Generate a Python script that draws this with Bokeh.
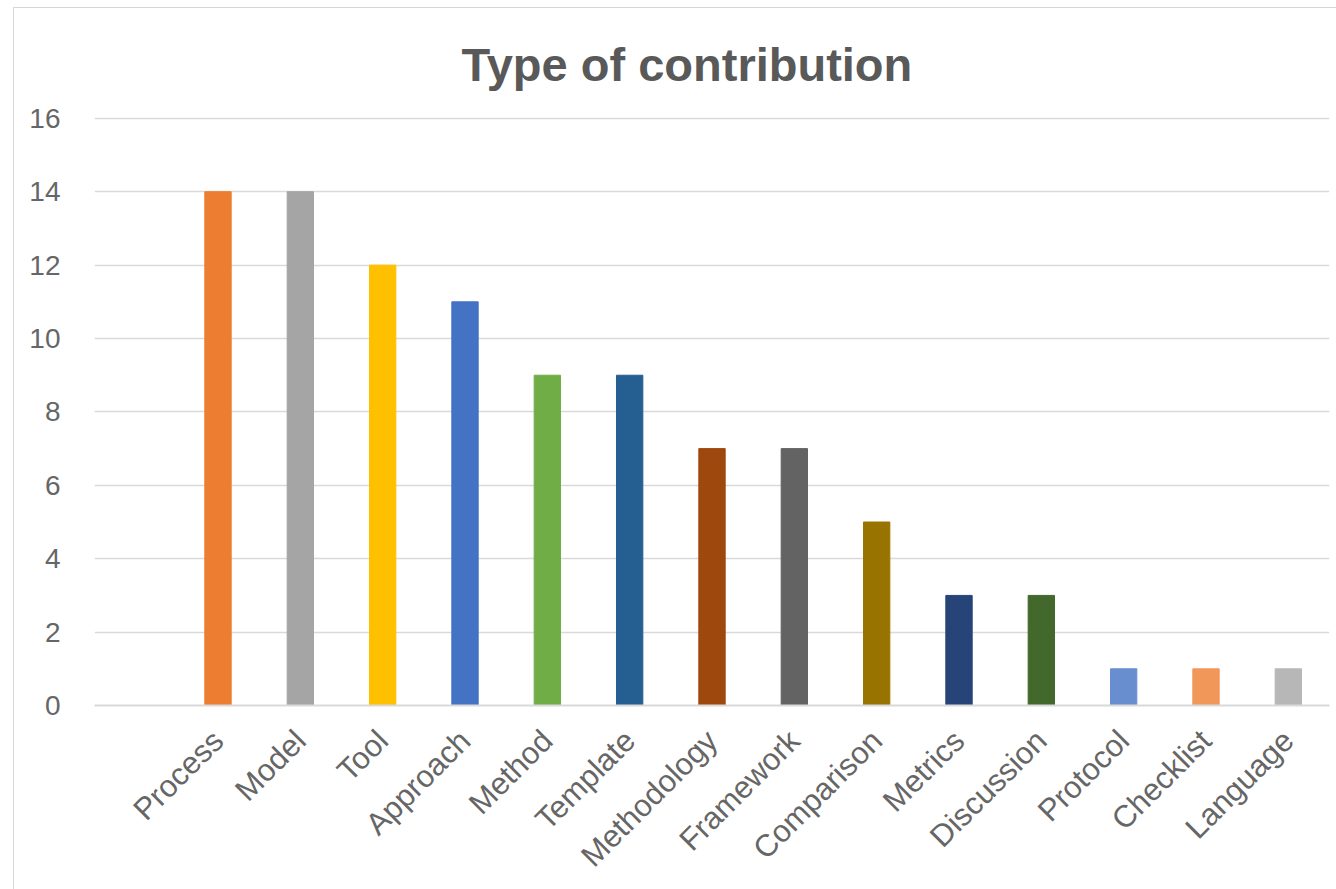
import math
from bokeh.plotting import figure
from bokeh.models import FactorRange, ColumnDataSource, FixedTicker
from bokeh.embed import file_html
from bokeh.resources import INLINE

categories = ["Process", "Model", "Tool", "Approach", "Method", "Template", "Methodology",
              "Framework", "Comparison", "Metrics", "Discussion", "Protocol", "Checklist", "Language"]
counts = [14, 14, 12, 11, 9, 9, 7, 7, 5, 3, 3, 1, 1, 1]
colors = ["#ED7D31", "#A5A5A5", "#FFC000", "#4472C4", "#70AD47", "#255E91", "#9E480E",
          "#636363", "#997300", "#264478", "#43682B", "#698ED0", "#F1975A", "#B7B7B7"]
y_ticks = [0, 2, 4, 6, 8, 10, 12, 14, 16]
title_text = "Type of contribution"

factors = [" "] + categories
src = ColumnDataSource(dict(cat=categories, val=counts, color=colors))

p = figure(x_range=FactorRange(*factors, range_padding=0), y_range=(0, 16.05),
           width=1323, height=882, output_backend="svg", toolbar_location=None,
           min_border_left=80, min_border_right=8, min_border_top=108, min_border_bottom=185)
p.margin = (7, 0, 0, 13)
p.styles = {"border-left": "1px solid #D6D6D6", "border-top": "1px solid #D6D6D6"}

p.vbar(x="cat", top="val", width=0.32, color="color", source=src)

p.title.text = title_text
p.title.align = "left"
p.title.offset = 367
p.title.standoff = 52
p.title.text_font = "Liberation Sans"
p.title.text_font_style = "bold"
p.title.text_font_size = "47px"
p.title.text_color = "#595959"

p.outline_line_color = None
p.xgrid.grid_line_color = None
p.ygrid.grid_line_color = "#D9D9D9"
p.ygrid.grid_line_width = 1.5
p.yaxis.ticker = FixedTicker(ticks=y_ticks)
p.yaxis.axis_line_color = None
p.yaxis.major_tick_line_color = None
p.yaxis.minor_tick_line_color = None
p.yaxis.major_label_text_font = "Liberation Sans"
p.yaxis.major_label_text_font_size = "28px"
p.yaxis.major_label_text_color = "#666666"
p.yaxis.major_label_standoff = 28

p.xaxis.axis_line_color = "#D9D9D9"
p.xaxis.axis_line_width = 2
p.xaxis.major_tick_line_color = None
p.xaxis.minor_tick_line_color = None
p.xaxis.major_label_orientation = math.pi / 4
p.xaxis.major_label_text_font = "Liberation Sans"
p.xaxis.major_label_text_font_size = "31px"
p.xaxis.major_label_text_color = "#666666"
p.xaxis.major_label_standoff = 24

open("out.html", "w").write(file_html(p, INLINE))
